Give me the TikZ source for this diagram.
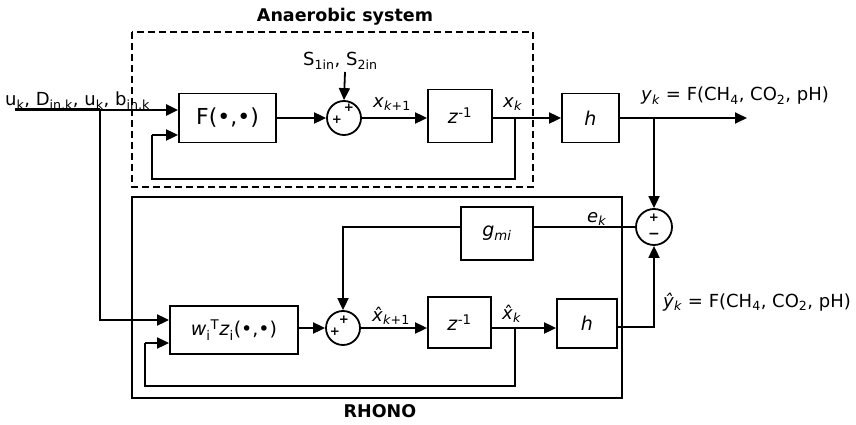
\documentclass[tikz,border=0pt]{standalone}
\usepackage{fontspec}
\setmainfont{DejaVu Sans}
\usetikzlibrary{arrows.meta,calc}
\newcommand{\sbs}[1]{\textsubscript{#1}}
\newcommand{\sps}[1]{\textsuperscript{#1}}
\begin{document}
\begin{tikzpicture}[x=1pt,y=-1pt,
  every node/.style={font=\fontsize{18}{21}\selectfont},
  blk/.style={draw,line width=1.8pt,inner sep=0pt,font=\fontsize{19}{22}\selectfont},
  sumc/.style={draw,circle,line width=1.8pt,minimum size=34pt,inner sep=0pt},
  sgn/.style={inner sep=0pt,font=\fontsize{12}{12}\selectfont\bfseries},
  ln/.style={line width=1.8pt},
  arr/.style={line width=1.8pt,-{Triangle[length=12pt,width=11pt]}},
  lbl/.style={inner sep=0pt,anchor=base west},
  ttl/.style={inner sep=0pt,font=\fontsize{17.5}{20}\selectfont\bfseries}]
\useasboundingbox (0,0) rectangle (856,425);
% containers
\draw[line width=1.8pt,dash pattern=on 7pt off 4pt] (132,32) rectangle (533,187);
\draw[line width=1.4pt] (132,197) rectangle (622,398);
\node[ttl] (tA) at (345,17) {Anaerobic system};
\node[ttl] (tR) at (380,411) {RHONO};
% blocks top
\node[blk,minimum width=97pt,minimum height=49pt,font=\fontsize{22}{24}\selectfont] (F) at (227.5,118) {F(•,•)};
\node[sumc] (s1) at (344,118) {};
\node[sgn] (s1a) at (349,108) {+};
\node[sgn] (s1b) at (337,120) {+};
\node[blk,minimum width=64pt,minimum height=53pt] (z1) at (460,116) {\textit{z}\sps{-1}};
\node[blk,minimum width=57pt,minimum height=49pt] (h1) at (590.5,118) {\textit{h}};
% blocks bottom
\node[blk,minimum width=128pt,minimum height=48pt] (W) at (234,330) {\textit{w}\sbs{i}\sps{T}\textit{z}\sbs{i}(•,•)};
\node[sumc] (s2) at (343,328) {};
\node[sgn] (s2a) at (344,320) {+};
\node[sgn] (s2b) at (335,332) {+};
\node[blk,minimum width=63pt,minimum height=51pt] (z2) at (459.5,322.5) {\textit{z}\sps{-1}};
\node[blk,minimum width=60pt,minimum height=49pt] (h2) at (587,323.5) {\textit{h}};
\node[blk,minimum width=72pt,minimum height=53pt] (g) at (497,233.5) {\textit{g}\sbs{\textit{mi}}};
\node[sumc,minimum size=36pt] (e) at (654,227) {};
\node[sgn] (ea) at (654,218) {+};
\node[sgn,font=\fontsize{14}{14}\selectfont\bfseries] (eb) at (654,236) {−};
% labels
\node[lbl] (Lin) at (5,106) {u\sbs{k}, D\sbs{in,k}, u\sbs{k}, b\sbs{in,k}};
\node[lbl] (LS) at (303,66) {S\sbs{1in}, S\sbs{2in}};
\node[lbl] (Lx1) at (373,107) {\textit{x}\sbs{\textit{k}+1}};
\node[lbl] (Lx) at (503,107) {\textit{x}\sbs{\textit{k}}};
\node[lbl] (Ly) at (641,101) {\textit{y}\sbs{\textit{k}} = F(CH\sbs{4}, CO\sbs{2}, pH)};
\node[lbl] (Le) at (587,222) {\textit{e}\sbs{\textit{k}}};
\node[lbl] (Lyh) at (663,307) {\textit{ŷ}\sbs{\textit{k}} = F(CH\sbs{4}, CO\sbs{2}, pH)};
\node[lbl] (Lxh1) at (372,321) {\^{\textit{x}}\sbs{\textit{k}+1}};
\node[lbl] (Lxh) at (502,319) {\^{\textit{x}}\sbs{\textit{k}}};
% coordinates
\coordinate (in) at (15,110);
\coordinate (br) at (100,110);
\coordinate (t1) at (515,118);
\coordinate (t2) at (515,328);
\coordinate (yo) at (747,118);
\coordinate (yb) at (654,118);
\coordinate (Sa) at (345,72);
\coordinate (fb1) at (152,135);
\coordinate (fb2) at (145,343);
% top path
\draw[line width=3pt] (in) -- (br);
\draw[arr,line width=2.4pt] (br) -- (br -| F.west);
\draw[arr] (br) |- ($(W.west)+(0,-10)$);
\draw[arr] (Sa) -- (s1.north);
\draw[arr] (F.east |- s1) -- (s1.west);
\draw[arr] (s1.east) -- (s1.east -| z1.west);
\draw[arr] (z1.east |- t1) -- (t1 -| h1.west);
\draw[ln] (t1) -- (515,179) -- (152,179) -- (fb1);
\draw[arr] (fb1) -- (fb1 -| F.west);
\draw[arr] (h1.east) -- (yo);
\draw[arr] (yb) -- (e.north);
% bottom path
\draw[ln] (e.west) -- (g.east |- e.west);
\draw[arr] (g.west |- e.west) -| (s2.north);
\draw[arr] (W.east |- s2) -- (s2.west);
\draw[arr] (s2.east) -- (s2.east -| z2.west);
\draw[arr] (z2.east |- t2) -- (t2 -| h2.west);
\draw[ln] (t2) -- (515,386) -- (145,386) -- (fb2);
\draw[arr] (fb2) -- (fb2 -| W.west);
\draw[arr] (h2.east |- 0,327) -| (e.south);
\end{tikzpicture}
\end{document}
